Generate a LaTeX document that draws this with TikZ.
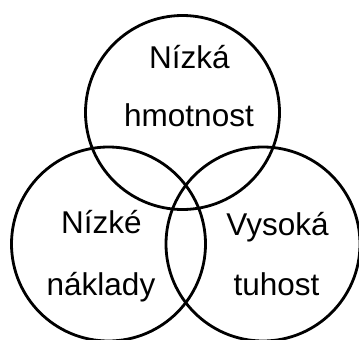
\documentclass[tikz,border=0pt]{standalone}
\usepackage{fontspec}
\setmainfont{Liberation Sans}
\begin{document}
\begin{tikzpicture}[x=1pt,y=-1pt,
  ring/.style={draw=black,line width=2.8pt,circle,minimum size=194pt,inner sep=0pt},
  lbl/.style={anchor=base,inner sep=0pt,font=\fontsize{31.5}{36}\selectfont}]
\useasboundingbox (0,0) rectangle (359,340);
\node[ring] (top) at (182.5,112.5) {};
\node[ring] (left) at (108.5,244) {};
\node[ring] (right) at (263,244) {};
\node[lbl] (t1) at (189.5,68.3) {Nízká};
\node[lbl] (t2) at (189,126.7) {hmotnost};
\node[lbl] (l1) at (101.5,233.3) {Nízké};
\node[lbl] (l2) at (101,295) {náklady};
\node[lbl] (r1) at (277.5,235) {Vysoká};
\node[lbl] (r2) at (276.5,295) {tuhost};
\end{tikzpicture}
\end{document}
